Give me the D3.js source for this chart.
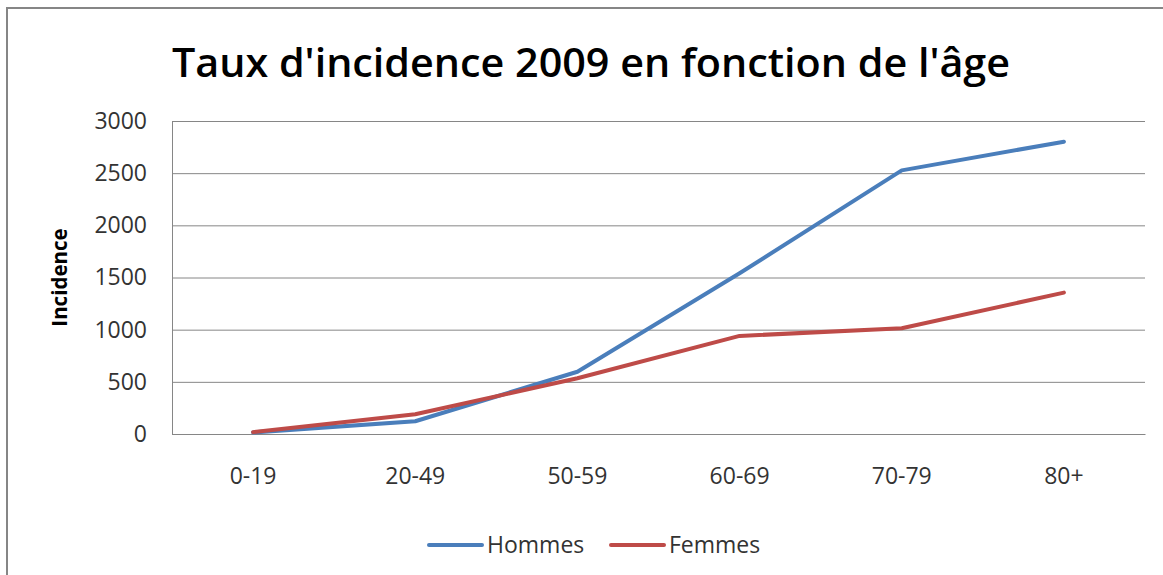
<!DOCTYPE html>
<html><head><meta charset="utf-8">
<script src="https://cdn.jsdelivr.net/npm/d3@7"></script>
<style>body{margin:0;background:#fff}svg{display:block}</style>
</head><body>
<script>
const categories = ["0-19","20-49","50-59","60-69","70-79","80+"];
const hommes = [15, 122, 597, 1540, 2527, 2802];
const femmes = [18, 190, 534, 940, 1013, 1355];
const yTicks = [0, 500, 1000, 1500, 2000, 2500, 3000];
const seriesNames = ["Hommes", "Femmes"];
const seriesColors = ["#4a7ebb", "#be4b48"];
const title = "Taux d'incidence 2009 en fonction de l'âge";
const yTitle = "Incidence";

const W = 1163, H = 575;
const svg = d3.select("body").append("svg").attr("width", W).attr("height", H);
svg.append("rect").attr("x", 7).attr("y", 8).attr("width", W + 10).attr("height", H + 10)
  .attr("fill", "#fff").attr("stroke", "#868686").attr("stroke-width", 2);

const m = {left: 172, top: 121, right: 1145, bottom: 434};
const x = d3.scaleBand().domain(categories).range([m.left, m.right]);
const y = d3.scaleLinear().domain([0, 3000]).range([m.bottom, m.top]);

const font = "'Open Sans', sans-serif";
const txt = "#333";

svg.append("text").attr("x", 591).attr("y", 77).attr("text-anchor", "middle")
  .attr("font-family", font).attr("font-weight", 600).attr("font-size", 40)
  .attr("textLength", 838).attr("lengthAdjust", "spacingAndGlyphs")
  .attr("fill", "#000").text(title);

const yAxis = d3.axisLeft(y).tickValues(yTicks).tickFormat(d3.format("d"))
  .tickSize(-(m.right - m.left)).tickPadding(25);
const gy = svg.append("g").attr("transform", `translate(${m.left},0)`).call(yAxis);
gy.select(".domain").attr("stroke", "#868686");
gy.selectAll(".tick line").attr("stroke", "#868686").attr("stroke-width", 1);
gy.selectAll(".tick text").attr("font-family", font).attr("font-size", 23).attr("fill", txt);

const xAxis = d3.axisBottom(x).tickSize(0).tickPadding(34);
const gx = svg.append("g").attr("transform", `translate(0,${m.bottom})`).call(xAxis);
gx.select(".domain").attr("stroke", "#868686");
gx.selectAll(".tick text").attr("font-family", font).attr("font-size", 23).attr("fill", txt);

svg.append("text").attr("transform", `translate(67,${(m.top + m.bottom) / 2}) rotate(-90)`)
  .attr("text-anchor", "middle").attr("font-family", font).attr("font-weight", "bold")
  .attr("font-size", 20.5).attr("fill", "#000").text(yTitle);

const line = d3.line().x((d, i) => x(categories[i]) + x.bandwidth() / 2).y(d => y(d));
[hommes, femmes].forEach((s, k) => {
  svg.append("path").datum(s).attr("d", line).attr("fill", "none")
    .attr("stroke", seriesColors[k]).attr("stroke-width", 4).attr("stroke-linecap", "round")
    .attr("stroke-linejoin", "round");
});

const legX = [429, 611];
seriesNames.forEach((n, k) => {
  svg.append("line").attr("x1", legX[k]).attr("x2", legX[k] + 53).attr("y1", 545).attr("y2", 545)
    .attr("stroke", seriesColors[k]).attr("stroke-width", 4).attr("stroke-linecap", "round");
  svg.append("text").attr("x", legX[k] + 58).attr("y", 553).attr("font-family", font)
    .attr("font-size", 23).attr("fill", txt).text(n);
});
</script>
</body></html>
